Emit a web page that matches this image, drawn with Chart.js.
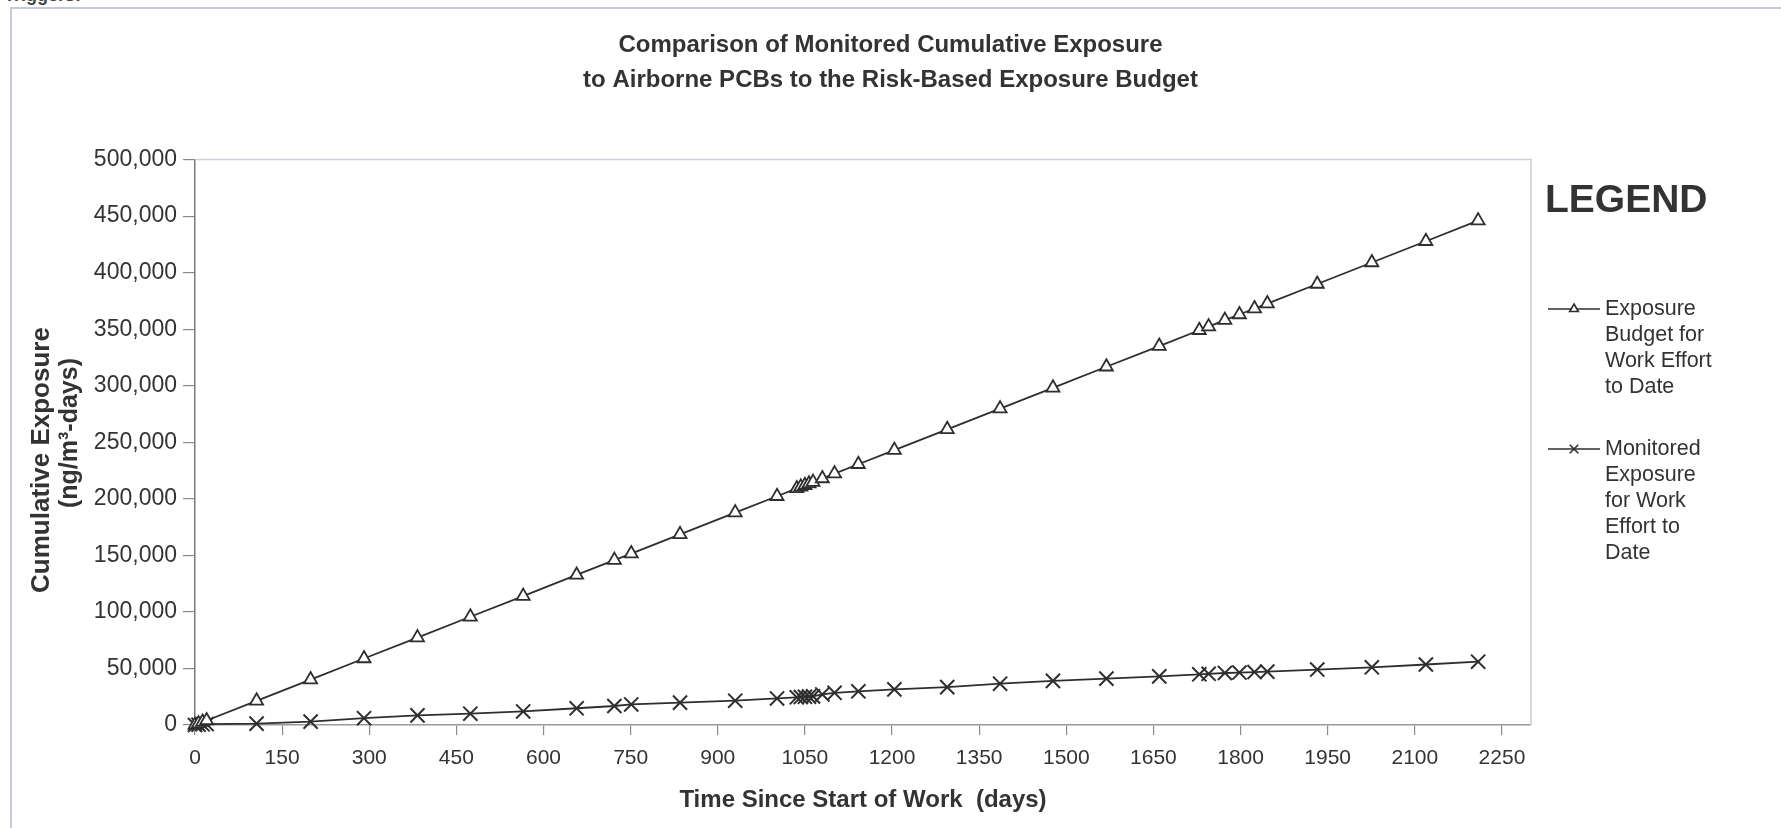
<!DOCTYPE html>
<html><head><meta charset="utf-8">
<script src="https://cdn.jsdelivr.net/npm/chart.js@4.4.0/dist/chart.umd.min.js"></script>
<style>
html,body{margin:0;padding:0;background:#fff;overflow:hidden}
#wrap{position:relative;width:1781px;height:828px;overflow:hidden}
#frame{position:absolute;left:10px;top:7px;width:1800px;height:900px;border-left:2px solid #c3cadc;border-top:2px solid #c3cadc}
#trig{position:absolute;left:4px;top:-15px;font:bold 18px "Liberation Sans",Arial,sans-serif;color:#444}
canvas{position:absolute;left:0;top:0}
</style></head><body>
<div id="wrap"><div id="frame"></div><div id="trig">Triggers:</div><canvas id="c" width="1781" height="828"></canvas></div>
<script>
// ---- data ----
const days = [0, 6, 13, 20, 106, 199, 291, 383, 474, 565, 657, 722, 751, 835, 930, 1002,
  1036, 1043, 1050, 1057, 1064, 1080, 1101, 1142, 1204, 1295, 1386, 1477, 1569, 1660,
  1729, 1745, 1773, 1798, 1824, 1846, 1932, 2026, 2119, 2209];
const budget = [0, 1200, 2600, 4000, 21400, 40200, 58800, 77300, 95700, 114000, 132700, 145800, 151600, 168600, 187800, 202300,
  209200, 210600, 212000, 213400, 214800, 218000, 222300, 230600, 243100, 261500, 279800, 298200, 316800, 335100,
  349100, 352300, 358000, 363000, 368300, 372700, 390000, 409000, 427800, 446000];
const monitored = [0, 300, 600, 800, 1200, 3000, 6000, 8500, 10000, 12000, 14800, 16800, 18200, 19800, 21500, 23500,
  24500, 24700, 24900, 25100, 25300, 27000, 28500, 29800, 31500, 33500, 36500, 39000, 41000, 43000,
  44800, 45300, 46000, 46400, 46800, 47200, 49000, 51000, 53500, 56000];
const xTicks = [0, 150, 300, 450, 600, 750, 900, 1050, 1200, 1350, 1500, 1650, 1800, 1950, 2100, 2250];
const yTicks = [0, 50000, 100000, 150000, 200000, 250000, 300000, 350000, 400000, 450000, 500000];
const seriesNames = ['Exposure Budget for Work Effort to Date', 'Monitored Exposure for Work Effort to Date'];
const legendLines = [['Exposure', 'Budget for', 'Work Effort', 'to Date'], ['Monitored', 'Exposure', 'for Work', 'Effort to', 'Date']];
const titleLines = ['Comparison of Monitored Cumulative Exposure', 'to Airborne PCBs to the Risk-Based Exposure Budget'];
const xTitle = 'Time Since Start of Work  (days)';
const yTitle = ['Cumulative Exposure', '(ng/m\u00B3-days)'];

// ---- rendering ----
const FONT = '"Liberation Sans", Arial, sans-serif';
const TXT = '#333';
const LINE = '#2e2e2e';

const frameAndLegend = {
  id: 'frameAndLegend',
  beforeDatasetsDraw(chart) {
    const {ctx, chartArea: a} = chart;
    ctx.save();
    ctx.strokeStyle = '#c9d0d8';
    ctx.lineWidth = 1.5;
    ctx.beginPath();
    ctx.moveTo(a.left, a.top); ctx.lineTo(a.right, a.top); ctx.lineTo(a.right, a.bottom);
    ctx.stroke();
    ctx.restore();
  },
  afterDraw(chart) {
    const ctx = chart.ctx;
    ctx.save();
    // y-axis title (two rotated lines)
    ctx.fillStyle = TXT;
    ctx.textAlign = 'center';
    ctx.textBaseline = 'middle';
    ctx.font = 'bold 26px ' + FONT;
    const yTitlePos = [[42, 460], [70, 433]];
    yTitle.forEach((t, i) => {
      ctx.save();
      ctx.translate(yTitlePos[i][0], yTitlePos[i][1]);
      ctx.rotate(-Math.PI / 2);
      ctx.font = (i === 0 ? 'bold 26px ' : 'bold 25px ') + FONT;
      ctx.fillText(t, 0, 0);
      ctx.restore();
    });
    // legend
    ctx.textAlign = 'left';
    ctx.font = 'bold 39px ' + FONT;
    ctx.fillText('LEGEND', 1545, 201);
    const starts = [309, 449];
    const styles = ['triangle', 'crossRot'];
    ctx.font = '21.5px ' + FONT;
    legendLines.forEach((lines, i) => {
      const y0 = starts[i];
      ctx.strokeStyle = LINE;
      ctx.lineWidth = 1.6;
      ctx.beginPath(); ctx.moveTo(1548, y0); ctx.lineTo(1600, y0); ctx.stroke();
      ctx.fillStyle = '#fff';
      Chart.helpers.drawPoint(ctx, {pointStyle: styles[i], radius: i === 0 ? 5 : 6, borderWidth: 1.6}, 1574, y0);
      ctx.fillStyle = TXT;
      lines.forEach((t, j) => ctx.fillText(t, 1605, y0 + j * 26));
    });
    ctx.restore();
  }
};

new Chart(document.getElementById('c'), {
  type: 'line',
  data: {
    datasets: [
      {
        label: seriesNames[0],
        data: days.map((d, i) => ({x: d, y: budget[i]})),
        borderColor: LINE, borderWidth: 1.8,
        pointStyle: 'triangle', pointRadius: 7.5,
        pointBackgroundColor: '#fff', pointBorderColor: LINE, pointBorderWidth: 1.8,
        tension: 0, clip: false
      },
      {
        label: seriesNames[1],
        data: days.map((d, i) => ({x: d, y: monitored[i]})),
        borderColor: LINE, borderWidth: 1.8,
        pointStyle: 'crossRot', pointRadius: 10,
        pointBackgroundColor: '#fff', pointBorderColor: LINE, pointBorderWidth: 2,
        tension: 0, clip: false
      }
    ]
  },
  options: {
    responsive: false, animation: false, devicePixelRatio: 1,
    layout: {padding: {left: 0, right: 0, top: 0, bottom: 0}},
    plugins: {
      legend: {display: false},
      tooltip: {enabled: false},
      title: {
        display: true, text: titleLines, color: TXT,
        font: {family: FONT, size: 24, weight: 'bold', lineHeight: 1.45},
        padding: {top: 28, bottom: 62}
      }
    },
    scales: {
      x: {
        type: 'linear', min: 0, max: 2300,
        afterBuildTicks: s => { s.ticks = xTicks.map(v => ({value: v})); },
        afterFit: s => { s.height = 103; },
        ticks: {color: TXT, font: {family: FONT, size: 21}, padding: 11, maxRotation: 0, autoSkip: false, callback: v => String(v)},
        grid: {display: true, drawOnChartArea: false, drawTicks: true, tickLength: 10, color: '#8a8a8a', lineWidth: 1.2},
        border: {display: true, color: '#9a9a9a', width: 1.5},
        title: {display: true, text: xTitle, color: TXT, font: {family: FONT, size: 24, weight: 'bold', lineHeight: 1.2}, padding: {top: 0, bottom: 13}}
      },
      y: {
        type: 'linear', min: 0, max: 500000,
        afterBuildTicks: s => { s.ticks = yTicks.map(v => ({value: v})); },
        afterFit: s => { s.width = 195; },
        ticks: {color: TXT, font: {family: FONT, size: 23}, padding: 6, callback: v => v.toLocaleString('en-US')},
        grid: {display: true, drawOnChartArea: false, drawTicks: true, tickLength: 12, color: '#8a8a8a', lineWidth: 1.2},
        border: {display: true, color: '#7d7b72', width: 1.5},
        title: {display: false}
      },
      legendSpace: {
        type: 'linear', position: 'right', display: true,
        ticks: {display: false}, grid: {display: false}, border: {display: false},
        afterFit: s => { s.width = 250; }
      }
    }
  },
  plugins: [frameAndLegend]
});
</script>
</body></html>
